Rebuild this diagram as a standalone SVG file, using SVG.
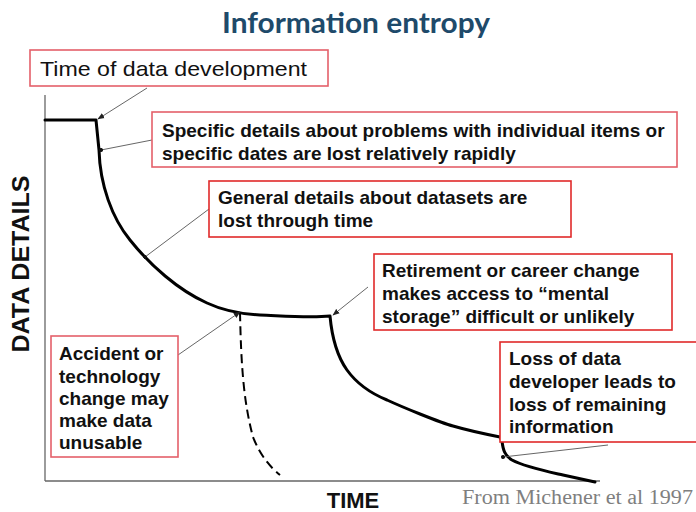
<svg xmlns="http://www.w3.org/2000/svg" width="696" height="512" viewBox="0 0 696 512">
<style>
.box{fill:#fff;stroke:#e02a2a;stroke-width:1.6}
.boxl{fill:#fff;stroke:#e4606a;stroke-width:1.6}
.t{font-family:"Liberation Sans",Arial,sans-serif;font-weight:bold;font-size:19px;fill:#111}
.lead{stroke:#555;stroke-width:0.9;fill:none}
.curve{stroke:#000;stroke-width:3;fill:none;stroke-linejoin:round;stroke-linecap:round}
.axis{stroke:#666;stroke-width:1.3;fill:none}
</style>
<defs>
<marker id="arr" viewBox="0 0 10 10" refX="9" refY="5" markerWidth="7" markerHeight="7" orient="auto" markerUnits="userSpaceOnUse">
<path d="M0,1 L10,5 L0,9 z" fill="#222"/>
</marker>
<marker id="dot" viewBox="0 0 10 10" refX="5" refY="5" markerWidth="4" markerHeight="4" orient="auto" markerUnits="userSpaceOnUse">
<circle cx="5" cy="5" r="5" fill="#111"/>
</marker>
</defs>

<text x="356" y="33" text-anchor="middle" font-family="Lato,'Open Sans',sans-serif" font-weight="bold" font-size="28" fill="#1e4a6a" textLength="268" lengthAdjust="spacingAndGlyphs">Information entropy</text>

<g id="axes">
<line class="axis" x1="45" y1="95" x2="45" y2="481"/>
<line class="axis" x1="45" y1="481" x2="600" y2="481"/>
<text transform="translate(29,264) rotate(-90)" text-anchor="middle" font-family="'Liberation Sans',Arial,sans-serif" font-weight="bold" font-size="23" fill="#111" textLength="177" lengthAdjust="spacingAndGlyphs">DATA DETAILS</text>
<text x="353" y="508" text-anchor="middle" font-family="'Liberation Sans',Arial,sans-serif" font-weight="bold" font-size="22" fill="#111">TIME</text>
<text x="462" y="504" font-family="'Liberation Serif','Times New Roman',serif" font-size="20" fill="#7f7f7f" textLength="231" lengthAdjust="spacingAndGlyphs">From Michener et al 1997</text>
</g>

<g id="curves">
<path class="curve" d="M45,120 H96 L99,150 C100,185 112,218 130,240 C150,265 178,290 207,303 C222,310 240,314 260,315 C285,316 310,318 330,316 C332,338 337,356 347,370 C357,384 370,393 387,400 C400,406 410,410 420,414 C435,420 445,424 453,426 C470,431 485,434 500,437 L502,441 C503,450 505,456 512,460 C525,467 545,471 563,475 L595,482"/>
<path d="M240,312 C241,360 243,400 253,437 C260,455 270,467 280,475" fill="none" stroke="#000" stroke-width="2" stroke-dasharray="9 5"/>
</g>

<g id="connectors">
<line class="lead" x1="147" y1="88" x2="98" y2="119" marker-end="url(#arr)"/>
<line class="lead" x1="152" y1="140" x2="101" y2="150" marker-end="url(#dot)"/>
<line class="lead" x1="209" y1="209" x2="145" y2="257" marker-end="url(#dot)"/>
<line class="lead" x1="368" y1="287" x2="333" y2="315" marker-end="url(#arr)"/>
<line class="lead" x1="178" y1="355" x2="240" y2="312" marker-end="url(#arr)"/>
<line class="lead" x1="608" y1="445" x2="503" y2="457" marker-end="url(#dot)"/>
</g>

<g id="n1">
<rect class="boxl" x="30" y="50" width="298" height="36"/>
<text x="40" y="76" font-family="'Liberation Sans',Arial,sans-serif" font-size="21" fill="#111" textLength="267" lengthAdjust="spacingAndGlyphs">Time of data development</text>
</g>

<g id="n2">
<rect class="boxl" x="152" y="112" width="525" height="55"/>
<text class="t" x="162" y="137">Specific details about problems with individual items or</text>
<text class="t" x="162" y="160">specific dates are lost relatively rapidly</text>
</g>

<g id="n3">
<rect class="box" x="209" y="181" width="362" height="56"/>
<text class="t" x="218" y="204">General details about datasets are</text>
<text class="t" x="218" y="227">lost through time</text>
</g>

<g id="n4">
<rect class="box" x="374" y="254" width="298" height="76"/>
<text class="t" x="382" y="277">Retirement or career change</text>
<text class="t" x="382" y="300">makes access to “mental</text>
<text class="t" x="382" y="323">storage” difficult or unlikely</text>
</g>

<g id="n5">
<rect class="box" x="500" y="342" width="200" height="100"/>
<text class="t" x="509" y="365">Loss of data</text>
<text class="t" x="509" y="388">developer leads to</text>
<text class="t" x="509" y="411">loss of remaining</text>
<text class="t" x="509" y="433">information</text>
</g>

<g id="n6">
<rect class="boxl" x="51" y="336" width="127" height="121"/>
<text class="t" x="59" y="360">Accident or</text>
<text class="t" x="59" y="383">technology</text>
<text class="t" x="59" y="405">change may</text>
<text class="t" x="59" y="427">make data</text>
<text class="t" x="59" y="449">unusable</text>
</g>
</svg>
